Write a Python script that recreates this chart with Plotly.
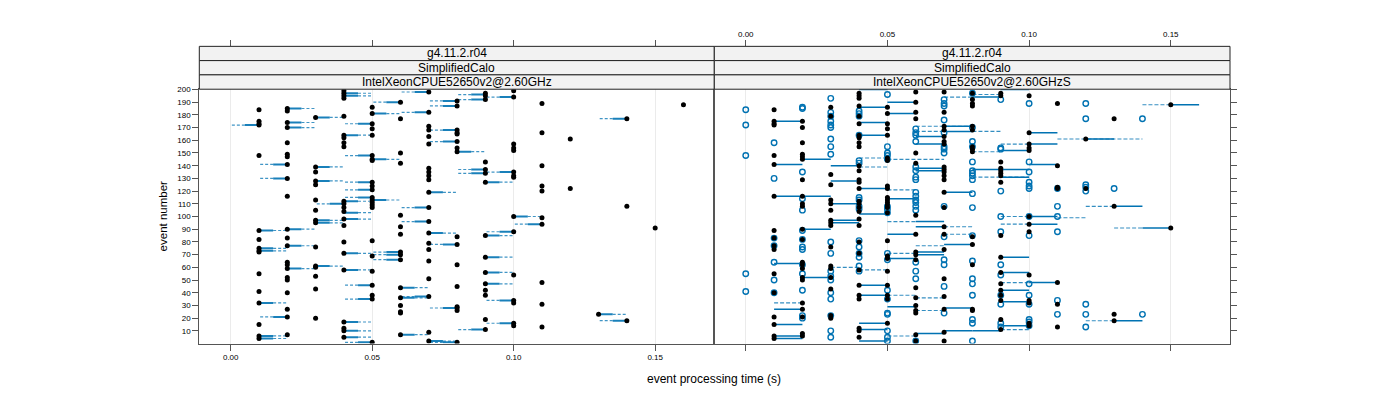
import plotly.graph_objects as go

# ---------------- data ----------------
# Left panel: IntelXeonCPUE52650v2@2.60GHz  -> one black dot per event
left_t001 = [184, 175, 173, 172, 148, 89, 82, 75, 73, 72, 55, 41, 32, 15, 6, 4]
left_t002 = [185, 183, 174, 170, 158, 149, 147, 141, 130, 116, 90, 83, 77, 64, 62, 59, 52, 50, 40, 27, 21, 7]
left_t003 = [178, 139, 135, 128, 125, 113, 105, 97, 95, 76, 61, 60, 53, 43, 20]
left_t004 = [199, 197, 195, 193, 179, 164, 162, 158, 155, 112, 110, 107, 104, 98, 93, 80, 71, 58, 17, 12, 10, 5]
left_t005 = [186, 181, 173, 169, 164, 148, 145, 144, 127, 124, 121, 115, 113, 111, 109, 107, 81, 69, 57, 46, 38, 35, 1]
left_t006 = [190, 177, 150, 142, 101, 92, 86, 72, 70, 66, 44, 36, 30, 25, 24, 7]
left_t007 = [198, 182, 171, 168, 163, 157, 138, 135, 132, 129, 119, 107, 96, 87, 79, 74, 65, 51, 37, 9, 2]
left_t008 = [191, 187, 168, 166, 165, 159, 154, 151, 84, 78, 62, 45, 29, 28, 26, 1]
left_t009 = [197, 195, 192, 143, 137, 134, 127, 85, 68, 56, 47, 42, 38, 19, 11]
left_t010 = [199, 194, 157, 154, 152, 135, 132, 131, 100, 88, 54, 34, 32, 16, 14]
left_t011 = [189, 166, 140, 124, 120, 99, 94, 48, 31, 13]
left_t012 = [161, 122]
left_t013 = [23]
left_t014 = [177, 108, 18]
left_t015 = [91]
left_t016 = [188]

# Left panel segments: event, own time, reference time
left_seg_event = [172, 185, 174, 170, 141, 130, 178, 139, 128, 110, 197, 195, 164, 112,
                  181, 173, 148, 145, 127, 121, 115, 113, 190, 198, 182, 119, 107,
                  191, 187, 168, 159, 151, 134, 196, 192, 137, 127, 194, 135, 177,
                  89, 75, 73, 32, 6, 4, 21, 90, 77, 59, 97, 95, 61,
                  103, 98, 71, 58, 17, 10, 5, 1, 46, 35, 96, 72, 70, 66, 44, 36, 7,
                  87, 78, 37, 2, 28, 11, 1, 88, 85, 68, 56, 47, 34, 16, 100, 94, 23, 18]
left_seg_from = [0.01, 0.02, 0.02, 0.02, 0.02, 0.02, 0.03, 0.03, 0.03, 0.04, 0.04, 0.04, 0.04, 0.04,
                 0.05, 0.05, 0.05, 0.05, 0.05, 0.05, 0.05, 0.05, 0.06, 0.07, 0.07, 0.07, 0.07,
                 0.08, 0.08, 0.08, 0.08, 0.08, 0.09, 0.09, 0.09, 0.09, 0.09, 0.10, 0.10, 0.14,
                 0.01, 0.01, 0.01, 0.01, 0.01, 0.01, 0.02, 0.02, 0.02, 0.02, 0.03, 0.03, 0.03,
                 0.04, 0.04, 0.04, 0.04, 0.04, 0.04, 0.04, 0.05, 0.05, 0.05, 0.07, 0.06, 0.06, 0.06, 0.06, 0.06, 0.06,
                 0.07, 0.08, 0.07, 0.07, 0.08, 0.09, 0.08, 0.10, 0.09, 0.09, 0.09, 0.09, 0.10, 0.10, 0.10, 0.11, 0.13, 0.14]
left_seg_to = [0.00, 0.03, 0.03, 0.03, 0.01, 0.01, 0.04, 0.04, 0.04, 0.03, 0.05, 0.05, 0.05, 0.05,
               0.06, 0.04, 0.04, 0.06, 0.04, 0.04, 0.04, 0.06, 0.05, 0.06, 0.06, 0.08, 0.06,
               0.07, 0.07, 0.07, 0.07, 0.09, 0.08, 0.08, 0.08, 0.08, 0.10, 0.09, 0.09, 0.13,
               0.02, 0.02, 0.02, 0.02, 0.02, 0.02, 0.01, 0.03, 0.03, 0.03, 0.04, 0.04, 0.04,
               0.05, 0.05, 0.05, 0.05, 0.05, 0.05, 0.05, 0.04, 0.04, 0.04, 0.06, 0.05, 0.05, 0.05, 0.07, 0.07, 0.07,
               0.08, 0.07, 0.06, 0.08, 0.07, 0.08, 0.07, 0.09, 0.10, 0.10, 0.10, 0.10, 0.09, 0.09, 0.11, 0.10, 0.14, 0.13]

# Right panel: IntelXeonCPUE52650v2@2.60GHzS -> black dots and open circles
right_dot_t001 = [184, 175, 173, 172, 148, 141, 116, 89, 83, 77, 74, 55, 40, 21, 15, 6, 4]
right_dot_t002 = [175, 170, 158, 149, 147, 145, 129, 116, 110, 108, 90, 82, 64, 62, 59, 52, 50, 32, 27, 21, 8, 6]
right_dot_t003 = [186, 179, 133, 125, 113, 110, 105, 97, 95, 93, 76, 61, 59, 52, 43, 22, 20]
right_dot_t004 = [197, 195, 193, 187, 179, 173, 164, 162, 158, 155, 140, 136, 129, 127, 122, 112, 110, 107, 104,
                  98, 93, 80, 71, 58, 46, 38, 35, 12, 10, 5]
right_dot_t005 = [186, 181, 173, 169, 164, 146, 144, 124, 122, 115, 113, 111, 109, 107, 103, 81, 69, 67, 57, 46, 38, 35, 16]
right_dot_t006 = [198, 190, 182, 177, 150, 142, 101, 86, 72, 70, 66, 44, 36, 30, 26, 24, 7, 2]
right_dot_t007 = [198, 182, 171, 168, 163, 159, 157, 139, 137, 135, 132, 129, 119, 107, 92, 86, 74, 51, 37, 27, 9, 2]
right_dot_t008 = [197, 192, 189, 187, 171, 168, 155, 153, 151, 84, 78, 62, 27, 26]
right_dot_t009 = [197, 195, 143, 138, 136, 134, 132, 127, 85, 68, 56, 47, 42, 38, 34, 19, 11]
right_dot_t010 = [195, 166, 157, 154, 152, 100, 94, 88, 54, 34, 32, 16, 14]
right_dot_t011 = [189, 140, 123, 122, 48, 31, 13]
right_dot_t012 = [161, 122]
right_dot_t013 = [177, 108, 23, 18]
right_dot_t015 = [188, 91]

right_open_t000 = [184, 172, 148, 55, 41]
right_open_t001 = [158, 130, 83, 77, 64, 50, 40]
right_open_t002 = [186, 185, 135, 114, 105, 89, 82, 76, 74, 62, 55, 42, 22, 20]
right_open_t003 = [193, 182, 179, 175, 172, 170, 161, 155, 149, 80, 71, 57, 53, 50, 40, 35, 22, 10, 5]
right_open_t004 = [183, 181, 179, 164, 144, 142, 115, 113, 108, 106, 81, 76, 71, 68, 61, 57]
right_open_t005 = [196, 155, 150, 148, 145, 108, 106, 103, 71, 66, 42, 35, 24, 23, 10, 5, 2]
right_open_t006 = [169, 166, 164, 159, 139, 136, 131, 129, 119, 116, 113, 111, 108, 105, 64, 57, 51, 2]
right_open_t007 = [192, 189, 187, 176, 166, 155, 153, 150, 108, 84, 66, 62, 45, 24]
right_open_t008 = [197, 170, 159, 155, 143, 136, 134, 132, 129, 118, 107, 85, 65, 51, 47, 38, 19, 16, 2]
right_open_t009 = [192, 154, 153, 120, 100, 88, 62, 54, 38, 31, 16, 13]
right_open_t010 = [189, 143, 135, 127, 124, 122, 100, 85, 47, 38, 31, 19, 17, 14]
right_open_t011 = [122, 108, 100, 88, 34, 23]
right_open_t012 = [189, 177, 125, 123, 120, 31, 23, 13]
right_open_t013 = [122]
right_open_t014 = [177, 23]

# Right panel solid segments: event, start time, end time
right_solid_event = [175, 141, 116, 145, 140, 128, 110, 200, 186, 174, 164, 122, 190, 181, 114,
                     163, 157, 138, 136, 171, 167, 119, 194, 137, 200, 152, 131, 166, 157, 141, 161, 108, 188,
                     63, 27, 15, 6, 4, 90, 52, 97, 95, 102, 46, 38, 16, 11, 2, 86, 67, 29,
                     96, 92, 72, 70, 8, 78, 28, 10, 10, 68, 56, 42, 33, 14, 100, 94, 48, 18, 91]
right_solid_from = [0.01, 0.01, 0.01, 0.02, 0.03, 0.03, 0.03, 0.04, 0.04, 0.04, 0.04, 0.04, 0.05, 0.05, 0.05,
                    0.06, 0.06, 0.06, 0.06, 0.07, 0.07, 0.07, 0.08, 0.08, 0.09, 0.09, 0.09, 0.10, 0.10, 0.10, 0.12, 0.13, 0.15,
                    0.01, 0.01, 0.01, 0.01, 0.01, 0.02, 0.02, 0.03, 0.03, 0.04, 0.04, 0.04, 0.04, 0.04, 0.04, 0.05, 0.05, 0.05,
                    0.06, 0.06, 0.06, 0.06, 0.06, 0.07, 0.07, 0.07, 0.08, 0.09, 0.09, 0.09, 0.09, 0.09, 0.10, 0.10, 0.10, 0.13, 0.14]
right_solid_to = [0.02, 0.02, 0.03, 0.03, 0.04, 0.04, 0.04, 0.05, 0.05, 0.05, 0.05, 0.05, 0.06, 0.06, 0.06,
                  0.07, 0.07, 0.07, 0.07, 0.08, 0.08, 0.08, 0.09, 0.10, 0.10, 0.10, 0.10, 0.11, 0.11, 0.11, 0.13, 0.14, 0.16,
                  0.02, 0.02, 0.02, 0.02, 0.02, 0.03, 0.03, 0.04, 0.04, 0.05, 0.05, 0.05, 0.05, 0.05, 0.05, 0.06, 0.06, 0.06,
                  0.07, 0.07, 0.07, 0.07, 0.07, 0.08, 0.08, 0.08, 0.09, 0.10, 0.10, 0.10, 0.10, 0.10, 0.11, 0.11, 0.11, 0.14, 0.15]

# Right panel dashed segments
right_dash_event = [146, 139, 145, 121, 171, 167, 194, 167, 151, 131, 196, 157, 161, 108, 188,
                    32, 60, 58, 96, 71, 38, 6, 77, 36, 26, 86, 92, 100, 94, 48, 11, 99, 18, 91]
right_dash_from = [0.04, 0.04, 0.05, 0.05, 0.06, 0.06, 0.07, 0.08, 0.08, 0.08, 0.08, 0.09, 0.11, 0.12, 0.14,
                   0.01, 0.03, 0.04, 0.05, 0.05, 0.05, 0.05, 0.06, 0.06, 0.06, 0.07, 0.07, 0.09, 0.09, 0.09, 0.09, 0.11, 0.12, 0.13]
right_dash_to = [0.05, 0.05, 0.07, 0.06, 0.08, 0.07, 0.08, 0.09, 0.09, 0.10, 0.09, 0.10, 0.14, 0.13, 0.15,
                 0.02, 0.04, 0.05, 0.06, 0.06, 0.06, 0.06, 0.07, 0.07, 0.07, 0.08, 0.08, 0.10, 0.10, 0.10, 0.10, 0.12, 0.13, 0.14]

x_ticks = [0.0, 0.05, 0.10, 0.15]
x_tick_text = ["0.00", "0.05", "0.10", "0.15"]
y_ticks = list(range(10, 201, 10))
strip_rows = ["g4.11.2.r04", "SimplifiedCalo"]
panel_names = ["IntelXeonCPUE52650v2@2.60GHz", "IntelXeonCPUE52650v2@2.60GHzS"]

# ---------------- build ----------------
def flatten(cols):
    xs, ys = [], []
    for t, evs in cols:
        for e in evs:
            xs.append(t)
            ys.append(e)
    return xs, ys

left_cols = [(0.01, left_t001), (0.02, left_t002), (0.03, left_t003), (0.04, left_t004),
             (0.05, left_t005), (0.06, left_t006), (0.07, left_t007), (0.08, left_t008),
             (0.09, left_t009), (0.10, left_t010), (0.11, left_t011), (0.12, left_t012),
             (0.13, left_t013), (0.14, left_t014), (0.15, left_t015), (0.16, left_t016)]
right_dot_cols = [(0.01, right_dot_t001), (0.02, right_dot_t002), (0.03, right_dot_t003), (0.04, right_dot_t004),
                  (0.05, right_dot_t005), (0.06, right_dot_t006), (0.07, right_dot_t007), (0.08, right_dot_t008),
                  (0.09, right_dot_t009), (0.10, right_dot_t010), (0.11, right_dot_t011), (0.12, right_dot_t012),
                  (0.13, right_dot_t013), (0.15, right_dot_t015)]
right_open_cols = [(0.00, right_open_t000), (0.01, right_open_t001), (0.02, right_open_t002), (0.03, right_open_t003),
                   (0.04, right_open_t004), (0.05, right_open_t005), (0.06, right_open_t006), (0.07, right_open_t007),
                   (0.08, right_open_t008), (0.09, right_open_t009), (0.10, right_open_t010), (0.11, right_open_t011),
                   (0.12, right_open_t012), (0.13, right_open_t013), (0.14, right_open_t014)]

def segs(evs, x0s, x1s):
    xs, ys = [], []
    for e, a, b in zip(evs, x0s, x1s):
        xs += [a, b, None]
        ys += [e, e, None]
    return xs, ys

BLUE = "#0072B2"
fig = go.Figure()

# left panel segments: solid half next to the dot, dashed half towards reference
mids = [(a + b) / 2 for a, b in zip(left_seg_from, left_seg_to)]
sx, sy = segs(left_seg_event, left_seg_from, mids)
dx, dy = segs(left_seg_event, mids, left_seg_to)
fig.add_trace(go.Scatter(x=dx, y=dy, mode="lines", xaxis="x", yaxis="y",
                         line=dict(color="rgba(0,114,178,0.75)", width=1.2, dash="3px,2px"),
                         hoverinfo="skip", showlegend=False))
fig.add_trace(go.Scatter(x=sx, y=sy, mode="lines", xaxis="x", yaxis="y",
                         line=dict(color="rgba(0,114,178,0.9)", width=2),
                         hoverinfo="skip", showlegend=False))
lx, ly = flatten(left_cols)
fig.add_trace(go.Scatter(x=lx, y=ly, mode="markers", xaxis="x", yaxis="y",
                         marker=dict(color="black", size=5, line=dict(width=0)), showlegend=False))

# right panel
dx, dy = segs(right_dash_event, right_dash_from, right_dash_to)
fig.add_trace(go.Scatter(x=dx, y=dy, mode="lines", xaxis="x2", yaxis="y2",
                         line=dict(color="rgba(0,114,178,0.8)", width=1.1, dash="4px,2px"),
                         hoverinfo="skip", showlegend=False))
sx, sy = segs(right_solid_event, right_solid_from, right_solid_to)
fig.add_trace(go.Scatter(x=sx, y=sy, mode="lines", xaxis="x2", yaxis="y2",
                         line=dict(color=BLUE, width=1.5),
                         hoverinfo="skip", showlegend=False))
ox, oy = flatten(right_open_cols)
fig.add_trace(go.Scatter(x=ox, y=oy, mode="markers", xaxis="x2", yaxis="y2",
                         marker=dict(symbol="circle-open", color=BLUE, size=5.5, line=dict(width=1.4, color=BLUE)),
                         showlegend=False))
bx, by = flatten(right_dot_cols)
fig.add_trace(go.Scatter(x=bx, y=by, mode="markers", xaxis="x2", yaxis="y2",
                         marker=dict(color="black", size=5, line=dict(width=0)), showlegend=False))

# the page body has an 8px margin: the figure is 1392x392 placed at (8, 8)
OFF = 8.0
W, H = 1392, 392

def px(x):
    return (x - OFF) / W

def py(y):
    return 1 - (y - OFF) / H

L1, M, R2 = px(199.3), px(714.3), px(1230.0)
TOP, BOT = 86.0, 343.0
XR = [-0.0111, 0.1709]
YR = [0.0, 200.2]
FONT = "Liberation Sans, Arial, sans-serif"
axcol = "#555555"

common_x = dict(range=XR, tickvals=x_ticks, ticktext=x_tick_text, ticks="outside", ticklen=6,
                tickcolor=axcol, tickfont=dict(size=8, color="black"), zeroline=False)
fig.update_layout(
    width=W, height=H, margin=dict(l=0, r=0, t=0, b=0),
    paper_bgcolor="white", plot_bgcolor="white", font=dict(family=FONT, color="black"),
    xaxis=dict(domain=[L1, M], anchor="y", showgrid=True, gridcolor="#ebebeb", gridwidth=1,
               showline=True, linecolor=axcol, mirror=True, **common_x),
    xaxis2=dict(domain=[M, R2], anchor="y2", showgrid=True, gridcolor="#ebebeb", gridwidth=1,
                showline=True, linecolor=axcol, mirror=True, showticklabels=False, **common_x),
    xaxis3=dict(domain=[L1, M], overlaying="x", anchor="free", position=py(42.7), side="top",
                showgrid=False, showline=False, showticklabels=False, **common_x),
    xaxis4=dict(domain=[M, R2], overlaying="x2", anchor="free", position=py(42.7), side="top",
                showgrid=False, showline=False, showticklabels=True, **common_x),
    yaxis=dict(domain=[py(BOT), py(TOP)], anchor="x", range=YR, tickvals=y_ticks,
               ticks="outside", ticklen=6, tickcolor=axcol, tickfont=dict(size=8, color="black"),
               showgrid=False, zeroline=False, showline=True, linecolor=axcol, mirror=True),
    yaxis2=dict(domain=[py(BOT), py(TOP)], anchor="x2", range=YR, tickvals=y_ticks, side="right",
                ticks="outside", ticklen=6, tickcolor=axcol, showticklabels=False,
                showgrid=False, zeroline=False, showline=True, linecolor=axcol, mirror=True),
)
# invisible traces so that top axes render
fig.add_trace(go.Scatter(x=[None], y=[None], xaxis="x3", yaxis="y", showlegend=False, hoverinfo="skip"))
fig.add_trace(go.Scatter(x=[None], y=[None], xaxis="x4", yaxis="y2", showlegend=False, hoverinfo="skip"))

# strips
strip_edges = [42.7, 57.1, 71.5, 86.0]
shapes, annots = [], []
for pi, (x0, x1) in enumerate([(L1, M), (M, R2)]):
    labels = strip_rows + [panel_names[pi]]
    for si, lab in enumerate(labels):
        y_top, y_bot = strip_edges[si], strip_edges[si + 1]
        shapes.append(dict(type="rect", xref="paper", yref="paper", x0=x0, x1=x1,
                           y0=py(y_bot), y1=py(y_top), fillcolor="#f2f2f2",
                           line=dict(color="#222222", width=1), layer="above"))
        annots.append(dict(text=lab, xref="paper", yref="paper", x=(x0 + x1) / 2,
                           y=py((y_top + y_bot) / 2), showarrow=False,
                           font=dict(size=12, color="black"), xanchor="center", yanchor="middle"))

annots.append(dict(text="event processing time (s)", xref="paper", yref="paper", x=px(714.3),
                   y=py(379), showarrow=False, font=dict(size=12), xanchor="center", yanchor="middle"))
annots.append(dict(text="event number", xref="paper", yref="paper", x=px(163), y=py(214.5),
                   showarrow=False, textangle=-90, font=dict(size=11.5), xanchor="center", yanchor="middle"))
fig.update_layout(shapes=shapes, annotations=annots)

fig.write_html("out.html")
